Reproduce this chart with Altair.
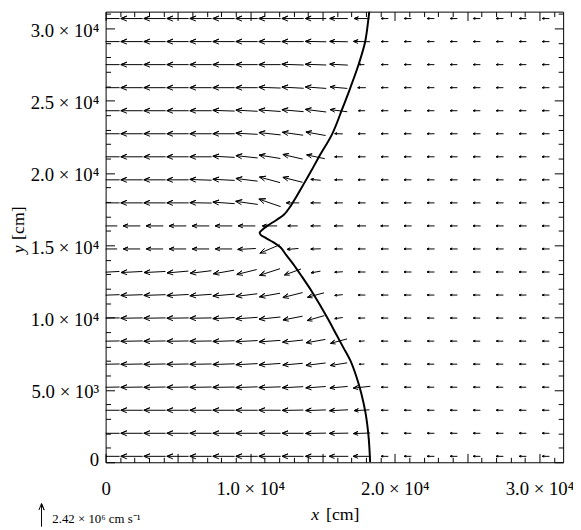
import math
import altair as alt
import pandas as pd

# ---------------- data ----------------
X_GRID = [215, 1806, 3397, 4988, 6579, 8170, 9761, 11352, 12943, 14534,
          16125, 17716, 19307, 20898, 22489, 24080, 25671, 27262, 28853, 30444]
Y_GRID = [410, 2003, 3596, 5189, 6782, 8375, 9968, 11561, 13154, 14747,
          16340, 17933, 19526, 21119, 22712, 24305, 25898, 27491, 29084, 30677]

# speed in units of 1e6 cm/s, rows from bottom (y=410) to top
SPEED = [
    [2.29, 2.29, 2.29, 2.29, 2.29, 2.29, 2.29, 2.29, 2.25, 2.15, 2.0, 1.8, 0.75, 0.75, 0.75, 0.75, 0.75, 0.75, 0.75, 0.75],
    [2.29, 2.29, 2.29, 2.29, 2.29, 2.29, 2.29, 2.29, 2.25, 2.15, 2.0, 1.75, 0.75, 0.75, 0.75, 0.75, 0.75, 0.75, 0.75, 0.75],
    [2.29, 2.29, 2.29, 2.29, 2.29, 2.29, 2.29, 2.29, 2.22, 2.12, 1.95, 1.6, 0.75, 0.75, 0.75, 0.75, 0.75, 0.75, 0.75, 0.75],
    [2.29, 2.29, 2.29, 2.29, 2.29, 2.29, 2.29, 2.29, 2.2, 2.1, 1.87, 1.8, 0.72, 0.72, 0.72, 0.72, 0.72, 0.72, 0.72, 0.72],
    [2.29, 2.29, 2.29, 2.29, 2.29, 2.29, 2.29, 2.25, 2.1, 2.08, 1.8, 0.55, 0.72, 0.72, 0.72, 0.72, 0.72, 0.72, 0.72, 0.72],
    [2.29, 2.29, 2.29, 2.29, 2.29, 2.29, 2.29, 2.25, 2.15, 2.05, 1.8, 0.6, 0.72, 0.72, 0.72, 0.72, 0.72, 0.72, 0.72, 0.72],
    [2.29, 2.29, 2.29, 2.29, 2.29, 2.29, 2.29, 2.25, 2.1, 1.87, 0.85, 0.7, 0.72, 0.72, 0.72, 0.72, 0.72, 0.72, 0.72, 0.72],
    [2.29, 2.29, 2.29, 2.29, 2.29, 2.29, 2.25, 2.2, 2.14, 1.8, 0.85, 0.75, 0.75, 0.75, 0.75, 0.75, 0.75, 0.75, 0.75, 0.75],
    [2.25, 2.25, 2.25, 2.25, 2.25, 2.2, 2.15, 2.26, 1.85, 1.0, 0.85, 0.78, 0.78, 0.78, 0.78, 0.78, 0.78, 0.78, 0.78, 0.78],
    [1.77, 1.77, 1.77, 1.77, 1.77, 1.77, 1.9, 2.26, 1.2, 1.04, 0.85, 0.8, 0.8, 0.8, 0.8, 0.8, 0.8, 0.8, 0.8, 0.8],
    [1.8, 1.8, 1.8, 1.8, 1.8, 1.8, 1.8, 1.56, 1.04, 1.04, 0.95, 0.9, 0.85, 0.8, 0.8, 0.8, 0.8, 0.8, 0.8, 0.8],
    [2.29, 2.29, 2.29, 2.29, 2.29, 2.29, 2.35, 2.42, 1.35, 1.04, 0.85, 0.8, 0.78, 0.78, 0.78, 0.78, 0.78, 0.78, 0.78, 0.78],
    [2.29, 2.29, 2.29, 2.29, 2.29, 2.29, 2.29, 2.24, 2.14, 1.04, 0.85, 0.8, 0.78, 0.78, 0.78, 0.78, 0.78, 0.78, 0.78, 0.78],
    [2.29, 2.29, 2.29, 2.29, 2.29, 2.29, 2.29, 2.26, 2.13, 1.95, 0.85, 0.8, 0.78, 0.78, 0.78, 0.78, 0.78, 0.78, 0.78, 0.78],
    [2.29, 2.29, 2.29, 2.29, 2.29, 2.29, 2.29, 2.29, 2.2, 2.1, 0.85, 0.8, 0.78, 0.78, 0.78, 0.78, 0.78, 0.78, 0.78, 0.78],
    [2.29, 2.29, 2.29, 2.29, 2.29, 2.29, 2.29, 2.29, 2.29, 2.2, 1.8, 0.7, 0.75, 0.75, 0.75, 0.75, 0.75, 0.75, 0.75, 0.75],
    [2.29, 2.29, 2.29, 2.29, 2.29, 2.29, 2.29, 2.29, 2.29, 2.2, 1.8, 0.85, 0.75, 0.75, 0.75, 0.75, 0.75, 0.75, 0.75, 0.75],
    [2.29, 2.29, 2.29, 2.29, 2.29, 2.29, 2.29, 2.29, 2.29, 2.2, 1.9, 0.55, 0.75, 0.75, 0.75, 0.75, 0.75, 0.75, 0.75, 0.75],
    [2.29, 2.29, 2.29, 2.29, 2.29, 2.29, 2.29, 2.29, 2.29, 2.2, 1.9, 1.75, 0.75, 0.75, 0.75, 0.75, 0.75, 0.75, 0.75, 0.75],
    [2.29, 2.29, 2.29, 2.29, 2.29, 2.29, 2.29, 2.29, 2.29, 2.2, 1.9, 1.6, 0.75, 0.75, 0.75, 0.75, 0.75, 0.75, 0.75, 0.75],
]

# direction in degrees (180 = pointing to -x), rows from bottom to top
ANGLE = [
    [180, 180, 180, 180, 180, 180, 180, 180, 180, 180, 180, 180, 180, 180, 180, 180, 180, 180, 180, 180],
    [180, 180, 180, 180, 180, 180, 180, 180, 180, 181, 181, 182, 180, 180, 180, 180, 180, 180, 180, 180],
    [180, 180, 180, 180, 180, 180, 180, 180, 181, 182, 183, 183, 180, 180, 180, 180, 180, 180, 180, 180],
    [181, 181, 181, 181, 181, 181, 182, 182, 183, 184, 185, 186, 180, 180, 180, 180, 180, 180, 180, 180],
    [181, 181, 181, 181, 181, 182, 183, 184, 185, 187, 189, 183, 180, 180, 180, 180, 180, 180, 180, 180],
    [181, 181, 181, 181, 181, 182, 183, 184, 186, 190, 195, 185, 180, 180, 180, 180, 180, 180, 180, 180],
    [181, 181, 181, 181, 181, 183, 184, 186, 191, 196, 188, 182, 180, 180, 180, 180, 180, 180, 180, 180],
    [182, 182, 182, 183, 184, 185, 187, 190, 194, 195, 186, 180, 180, 180, 180, 180, 180, 180, 180, 180],
    [183, 183, 183, 185, 187, 190, 194, 198, 200, 190, 184, 180, 180, 180, 180, 180, 180, 180, 180, 180],
    [180, 180, 180, 180, 180, 180, 183, 203, 185, 182, 180, 180, 180, 180, 180, 180, 180, 180, 180, 180],
    [180, 180, 180, 180, 180, 180, 180, 180, 180, 180, 180, 180, 180, 180, 180, 180, 180, 180, 180, 180],
    [180, 180, 180, 180, 179, 176, 172, 161, 180, 180, 180, 180, 180, 180, 180, 180, 180, 180, 180, 180],
    [180, 180, 180, 180, 178, 177, 173, 165, 166, 175, 180, 180, 180, 180, 180, 180, 180, 180, 180, 180],
    [180, 180, 180, 180, 180, 177, 174, 171, 167, 168, 180, 180, 180, 180, 180, 180, 180, 180, 180, 180],
    [180, 180, 180, 180, 180, 180, 177, 174, 172, 170, 178, 180, 180, 180, 180, 180, 180, 180, 180, 180],
    [180, 180, 180, 180, 180, 178, 177, 176, 175, 173, 173, 180, 180, 180, 180, 180, 180, 180, 180, 180],
    [180, 180, 180, 180, 180, 180, 180, 178, 177, 176, 175, 180, 180, 180, 180, 180, 180, 180, 180, 180],
    [180, 180, 180, 180, 180, 180, 180, 180, 178, 178, 177, 180, 180, 180, 180, 180, 180, 180, 180, 180],
    [180, 180, 180, 180, 180, 180, 180, 180, 180, 179, 179, 179, 180, 180, 180, 180, 180, 180, 180, 180],
    [180, 180, 180, 180, 180, 180, 180, 180, 180, 180, 180, 180, 180, 180, 180, 180, 180, 180, 180, 180],
]

REF_SPEED = 2.42            # 1e6 cm/s, drawn one grid cell long
CELL = 1591                 # grid spacing in cm
LEGEND_CENTER = (-4432, -3659)
LEGEND_TEXT = "2.42 × 10⁶ cm s⁻¹"

# front curve (bottom to top)
FRONT_X = [18293, 18190, 17986, 17679, 17338, 16929, 16452, 15975, 15429, 14884,
           14270, 13588, 12975, 12497, 12088, 11611, 11066, 10725, 10657, 10895,
           11202, 11816, 12361, 12804, 13179, 13745, 14202, 14768, 15681, 16363,
           16929, 17495, 17952, 18177, 18293]
FRONT_Y = [0, 1705, 3341, 4773, 5932, 7023, 7909, 8795, 9818, 10772,
           11795, 12818, 13704, 14318, 14863, 15204, 15511, 15716, 15886, 16125,
           16363, 16752, 17147, 17727, 18340, 19316, 20113, 21136, 22725, 24429,
           25908, 27497, 29093, 30681, 31704]

X_TICK_VALUES = [0, 10000, 20000, 30000]
X_TICK_LABELS = ["0", "1.0 × 10⁴", "2.0 × 10⁴", "3.0 × 10⁴"]
Y_TICK_VALUES = [0, 5000, 10000, 15000, 20000, 25000, 30000]
Y_TICK_LABELS = ["0", "5.0 × 10³", "1.0 × 10⁴", "1.5 × 10⁴", "2.0 × 10⁴", "2.5 × 10⁴", "3.0 × 10⁴"]
MINOR_TICK_VALUES = list(range(0, 32000, 1000))

X_DOMAIN = [0, 31640]
Y_DOMAIN = [0, 31155]
W, H = 464, 457
FONT = "Liberation Serif"

# ---------------- arrow geometry (IDL velovect style) ----------------
HEAD_R = 0.3
HEAD_A = math.radians(22.5)
ST, CT = HEAD_R * math.sin(HEAD_A), HEAD_R * math.cos(HEAD_A)


def arrow_rows(aid, xc, yc, s, ang):
    L = s / REF_SPEED * CELL
    dx = L * math.cos(math.radians(ang))
    dy = L * math.sin(math.radians(ang))
    x0, y0 = xc - dx / 2, yc - dy / 2
    x1, y1 = x0 + dx, y0 + dy
    pts = [(x0, y0), (x1, y1),
           (x1 - (CT * dx - ST * dy), y1 - (CT * dy + ST * dx)),
           (x1, y1),
           (x1 - (CT * dx + ST * dy), y1 - (CT * dy - ST * dx))]
    return [{"id": aid, "k": k, "x": px, "y": py} for k, (px, py) in enumerate(pts)]


rows = []
for j, yc in enumerate(Y_GRID):
    for i, xc in enumerate(X_GRID):
        rows += arrow_rows(j * 100 + i, xc, yc, SPEED[j][i], ANGLE[j][i])
arrows = pd.DataFrame(rows)
legend = pd.DataFrame(arrow_rows(0, LEGEND_CENTER[0], LEGEND_CENTER[1], REF_SPEED, 90))
front = pd.DataFrame({"x": FRONT_X, "y": FRONT_Y, "k": list(range(len(FRONT_X)))})

xs = alt.Scale(domain=X_DOMAIN, nice=False, zero=False)
ys = alt.Scale(domain=Y_DOMAIN, nice=False, zero=False)


def label_expr(values, labels):
    return "".join(f"datum.value == {v} ? '{t}' : " for v, t in zip(values, labels)) + "''"


x_label_axis = alt.Axis(orient="bottom", values=X_TICK_VALUES,
                        labelExpr=label_expr(X_TICK_VALUES, X_TICK_LABELS),
                        ticks=False, tickSize=0, domain=False, grid=False, title=None,
                        labelFont=FONT, labelFontSize=19, labelColor="black",
                        labelPadding=18, labelFlush=False, labelOverlap=False)
y_label_axis = alt.Axis(orient="left", values=Y_TICK_VALUES,
                        labelExpr=label_expr(Y_TICK_VALUES, Y_TICK_LABELS),
                        ticks=False, tickSize=0, domain=False, grid=False, title=None,
                        labelFont=FONT, labelFontSize=19, labelColor="black",
                        labelPadding=7, labelFlush=True, labelFlushOffset=5,
                        labelOffset=2, labelOverlap=False)


def tick_axis(orient, offset):
    return alt.Axis(orient=orient, offset=offset, values=MINOR_TICK_VALUES,
                    labels=False, domain=False, grid=False, title=None,
                    ticks=True, tickColor="black", tickWidth=1,
                    tickSize={"condition": {"test": "datum.value % 5000 === 0", "value": 9},
                              "value": 5})


arrow_layer = alt.Chart(arrows).mark_line(color="black", strokeWidth=1, clip=True).encode(
    x=alt.X("x:Q", scale=xs, axis=x_label_axis),
    y=alt.Y("y:Q", scale=ys, axis=y_label_axis),
    detail="id:N",
    order="k:Q",
)

front_layer = alt.Chart(front).mark_line(color="black", strokeWidth=2, clip=True,
                                         interpolate="catmull-rom").encode(
    x=alt.X("x:Q", scale=xs, axis=tick_axis("top", -H)),
    y=alt.Y("y:Q", scale=ys, axis=tick_axis("right", -W)),
    order="k:Q",
)

legend_layer = alt.Chart(legend).mark_line(color="black", strokeWidth=1, clip=False).encode(
    x=alt.X("x:Q", scale=xs, axis=tick_axis("bottom", -H)),
    y=alt.Y("y:Q", scale=ys, axis=tick_axis("left", -W)),
    detail="id:N",
    order="k:Q",
)


def text_layer(txt, x, y, size=18, style="normal", angle=0, align="center"):
    return alt.Chart(pd.DataFrame({"t": [txt]})).mark_text(
        font=FONT, fontSize=size, fontStyle=style, angle=angle, align=align,
        baseline="middle", color="black").encode(
        x=alt.value(x), y=alt.value(y), text="t:N")


texts = [
    text_layer("x", 212.5, 511, style="italic"),
    text_layer("[cm]", 240.5, 511),
    text_layer("y", -88, 241, style="italic", angle=270),
    text_layer("[cm]", -88, 214.5, angle=270),
    text_layer(LEGEND_TEXT, -54, 515, size=13, align="left"),
]

chart = alt.layer(arrow_layer, front_layer, legend_layer, *texts).resolve_axis(
    x="independent", y="independent"
).properties(
    width=W, height=H,
    autosize=alt.AutoSizeParams(type="none"),
    padding={"left": 99, "top": 0, "right": 10, "bottom": 65},
).configure_view(stroke="black", strokeWidth=1)

chart.save("out.html", embed_options={"renderer": "svg", "actions": False})
